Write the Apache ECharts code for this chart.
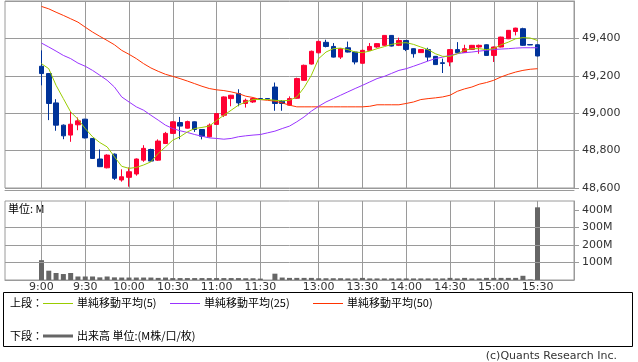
<!DOCTYPE html>
<html><head><meta charset="utf-8">
<script src="https://cdn.jsdelivr.net/npm/echarts@6/dist/echarts.min.js"></script>
<style>html,body{margin:0;padding:0;background:#fff}#c{width:638px;height:362px}</style>
</head><body><div id="c"></div>
<script>
// 5-minute slots (lunch break compressed into one slot)
const times = ['9:00','9:05','9:10','9:15','9:20','9:25','9:30','9:35','9:40','9:45','9:50','9:55',
 '10:00','10:05','10:10','10:15','10:20','10:25','10:30','10:35','10:40','10:45','10:50','10:55',
 '11:00','11:05','11:10','11:15','11:20','11:25','11:30','11:35',
 '12:30','12:35','12:40','12:45','12:50','12:55','13:00','13:05','13:10','13:15','13:20','13:25',
 '13:30','13:35','13:40','13:45','13:50','13:55','14:00','14:05','14:10','14:15','14:20','14:25',
 '14:30','14:35','14:40','14:45','14:50','14:55','15:00','15:05','15:10','15:15','15:20','15:25','15:30'];
const labeledTimes = ['9:00','9:30','10:00','10:30','11:00','11:30','13:00','13:30','14:00','14:30','15:00','15:30'];

const opens  = [49251,49212,49055,48936,48883,48938,48968,48865,48755,48708,48781,48643,48657,48675,48749,48806,48749,48838,48892,48950,48920,48954,48913,48874,48940,48989,49078,49105,49052,49060,49078,49078,49140,49064,49043,49080,49176,49263,49323,49379,49357,49300,49350,49327,49267,49336,49354,49363,49416,49363,49389,49345,49324,49340,49304,49270,49274,49340,49324,49341,49354,49366,49309,49354,49398,49437,49452,49367,49366];
const closes = [49212,49052,48936,48879,48941,48959,48868,48758,48714,48776,48652,48660,48687,48755,48812,48744,48851,48892,48954,48931,48955,48913,48877,48936,48998,49087,49096,49055,49069,49078,49076,49076,49052,49052,49078,49185,49256,49331,49384,49357,49300,49345,49327,49274,49336,49357,49372,49416,49359,49389,49341,49318,49340,49300,49260,49266,49340,49324,49345,49363,49363,49309,49354,49407,49443,49455,49363,49365,49306];
const lows   = [49149,48963,48906,48861,48847,48909,48865,48755,48712,48705,48643,48634,48607,48666,48740,48740,48745,48835,48890,48861,48918,48900,48860,48870,48937,48980,49037,49037,49030,49055,49074,49074,49013,49013,49040,49078,49174,49260,49320,49352,49298,49290,49325,49261,49265,49334,49350,49360,49357,49359,49332,49297,49322,49279,49258,49215,49251,49322,49322,49339,49318,49307,49274,49352,49396,49416,49360,49364,49304];
const highs  = [49336,49215,49075,48940,49007,48977,48970,48866,48806,48780,48785,48700,48710,48758,48829,48810,48860,48900,48957,48980,48960,48956,48915,48945,49000,49090,49098,49128,49078,49082,49080,49080,49164,49070,49090,49190,49260,49335,49388,49393,49375,49348,49383,49330,49340,49375,49375,49418,49418,49404,49391,49347,49342,49350,49306,49292,49342,49380,49366,49365,49367,49368,49356,49409,49445,49457,49457,49368,49368];

const ma5  = [49265,49238,49149,49078,49007,48968,48918,48874,48843,48820,48767,48716,48705,48710,48723,48740,48785,48820,48856,48874,48900,48918,48924,48931,48961,48989,49016,49043,49060,49073,49073,49073,49069,49066,49069,49087,49137,49203,49292,49327,49345,49348,49340,49327,49324,49332,49345,49356,49368,49375,49377,49368,49354,49340,49318,49304,49304,49318,49336,49345,49345,49340,49345,49366,49380,49398,49404,49402,49389];
const ma25 = [49375,49354,49332,49309,49292,49268,49251,49229,49203,49176,49140,49087,49060,49034,49016,48989,48963,48936,48918,48906,48897,48886,48877,48868,48865,48861,48865,48874,48879,48883,48886,48895,48904,48918,48931,48954,48980,49011,49037,49060,49078,49096,49114,49132,49149,49167,49185,49197,49213,49229,49238,49251,49265,49279,49292,49300,49309,49318,49324,49327,49332,49336,49341,49343,49345,49348,49350,49350,49350];
const ma50 = [49571,49558,49540,49523,49505,49487,49460,49434,49411,49389,49366,49336,49315,49292,49265,49242,49224,49208,49197,49185,49172,49158,49144,49132,49125,49121,49114,49105,49091,49084,49073,49069,49064,49055,49043,49034,49034,49034,49034,49034,49034,49034,49034,49034,49034,49037,49045,49045,49045,49045,49052,49060,49073,49078,49082,49087,49096,49117,49130,49140,49155,49164,49176,49194,49208,49220,49229,49235,49238];

const volumes = [113,53,40,34,40,20,20,20,15,20,15,14,14,14,14,14,12,14,11,11,11,11,11,11,11,11,11,11,10,10,8,0,36,14,12,12,12,12,10,10,10,10,9,9,12,9,9,9,9,9,9,9,9,9,9,9,12,9,12,9,9,12,12,12,12,12,24,3,414];

const priceMin = 48600, priceMax = 49600, priceStep = 200;
const volMax = 450, volStep = 100, volGridLines = [100, 200, 300];

// pad empty slots on each side
const PAD = 5;
const padL = Array.from({length: PAD}, (_, i) => 'L' + i);
const padR = Array.from({length: PAD}, (_, i) => 'R' + i);
const cats = padL.concat(times, padR);
const blanks = Array(PAD).fill('-');
const pad = arr => blanks.concat(arr, blanks);
const ohlc = pad(times.map((t, i) => [opens[i], closes[i], lows[i], highs[i]]));

const GRID = '#9a9a9a';
const showLabeled = (idx, val) => labeledTimes.indexOf(val) >= 0;
const LEFT = 5, RIGHT = 64;

const chart = echarts.init(document.getElementById('c'), null, {renderer: 'canvas'});
chart.setOption({
  animation: false,
  textStyle: {fontFamily: 'DejaVu Sans'},
  grid: [
    {left: LEFT, right: RIGHT, top: 1, height: 187, show: true, borderColor: GRID, borderWidth: 1},
    {left: LEFT, right: RIGHT, top: 201, height: 79, show: true, borderColor: GRID, borderWidth: 1}
  ],
  xAxis: [
    {gridIndex: 0, type: 'category', data: cats, boundaryGap: false, offset: 2,
     axisLine: {show: true, lineStyle: {color: GRID}}, axisTick: {show: false}, axisLabel: {show: false},
     splitLine: {show: true, interval: showLabeled, lineStyle: {color: GRID, width: 1}}},
    {gridIndex: 1, type: 'category', data: cats, boundaryGap: false,
     axisLine: {show: true, lineStyle: {color: GRID}}, axisTick: {show: false},
     axisLabel: {interval: showLabeled, color: '#333', fontSize: 11, margin: 2, hideOverlap: false},
     splitLine: {show: true, interval: showLabeled, lineStyle: {color: GRID, width: 1}}}
  ],
  yAxis: [
    {gridIndex: 0, type: 'value', position: 'right', min: priceMin, max: priceMax, interval: priceStep,
     axisLine: {show: true, lineStyle: {color: GRID}},
     axisTick: {show: true, length: 5, lineStyle: {color: GRID}},
     axisLabel: {color: '#333', fontSize: 11, margin: 8, showMaxLabel: false,
       formatter: v => v.toLocaleString('en-US')},
     splitLine: {show: true, lineStyle: {color: GRID}}},
    {gridIndex: 1, type: 'value', position: 'right', min: 0, max: volMax, interval: volStep,
     axisLine: {show: true, lineStyle: {color: GRID}},
     axisTick: {show: true, length: 5, lineStyle: {color: GRID}, customValues: [100,200,300,400]},
     axisLabel: {color: '#333', fontSize: 11, margin: 8, customValues: [100,200,300,400],
       formatter: v => v + 'M'},
     splitLine: {show: false}}
  ],
  series: [
    {type: 'candlestick', xAxisIndex: 0, yAxisIndex: 0, data: ohlc, barWidth: 5,
     itemStyle: {color: '#ff0033', color0: '#003399', borderColor: '#ff0033', borderColor0: '#003399', borderWidth: 1}},
    {type: 'line', xAxisIndex: 0, yAxisIndex: 0, data: pad(ma50), symbol: 'none', lineStyle: {color: '#ff3300', width: 1}},
    {type: 'line', xAxisIndex: 0, yAxisIndex: 0, data: pad(ma25), symbol: 'none', lineStyle: {color: '#9933ff', width: 1}},
    {type: 'line', xAxisIndex: 0, yAxisIndex: 0, data: pad(ma5), symbol: 'none', lineStyle: {color: '#99cc00', width: 1}},
    {type: 'bar', xAxisIndex: 1, yAxisIndex: 1, data: pad(volumes), barWidth: 5, itemStyle: {color: '#666'},
     markLine: {silent: true, symbol: 'none', label: {show: false}, animation: false,
       lineStyle: {color: GRID, type: 'solid', width: 1},
       data: volGridLines.map(v => ({yAxis: v}))}}
  ],
  graphic: [
    {type: 'text', left: 8, top: 203, style: {text: '単位: M', font: '11px "Noto Sans CJK JP"', fill: '#000'}},
    {type: 'rect', shape: {x: 3.5, y: 292.5, width: 629, height: 54}, style: {fill: 'none', stroke: '#000', lineWidth: 1}},
    {type: 'text', x: 10, y: 303, style: {text: '上段：', font: '11px "Noto Sans CJK JP"', fill: '#000', textVerticalAlign: 'middle'}},
    {type: 'line', shape: {x1: 43, y1: 303.5, x2: 73, y2: 303.5}, style: {stroke: '#99cc00', lineWidth: 1}},
    {type: 'text', x: 77, y: 303, style: {text: '単純移動平均(5)', font: '11px "Noto Sans CJK JP"', fill: '#000', textVerticalAlign: 'middle'}},
    {type: 'line', shape: {x1: 170, y1: 303.5, x2: 200, y2: 303.5}, style: {stroke: '#9933ff', lineWidth: 1}},
    {type: 'text', x: 204, y: 303, style: {text: '単純移動平均(25)', font: '11px "Noto Sans CJK JP"', fill: '#000', textVerticalAlign: 'middle'}},
    {type: 'line', shape: {x1: 313, y1: 303.5, x2: 343, y2: 303.5}, style: {stroke: '#ff3300', lineWidth: 1}},
    {type: 'text', x: 347, y: 303, style: {text: '単純移動平均(50)', font: '11px "Noto Sans CJK JP"', fill: '#000', textVerticalAlign: 'middle'}},
    {type: 'text', x: 10, y: 336, style: {text: '下段：', font: '11px "Noto Sans CJK JP"', fill: '#000', textVerticalAlign: 'middle'}},
    {type: 'line', shape: {x1: 43, y1: 336, x2: 73, y2: 336}, style: {stroke: '#666', lineWidth: 3}},
    {type: 'text', x: 77, y: 336, style: {text: '出来高 単位:(M株/口/枚)', font: '11px "Noto Sans CJK JP"', fill: '#000', textVerticalAlign: 'middle'}},
    {type: 'text', x: 617, y: 356, style: {text: '(c)Quants Research Inc.', font: '11px "DejaVu Sans"', fill: '#333', textAlign: 'right', textVerticalAlign: 'middle'}}
  ]
});
</script>
</body></html>
